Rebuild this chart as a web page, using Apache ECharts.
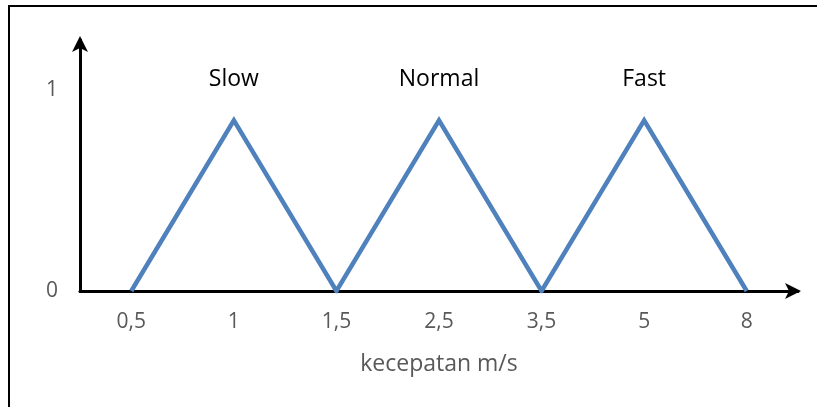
<!DOCTYPE html>
<html>
<head>
<meta charset="utf-8">
<script src="https://cdn.jsdelivr.net/npm/echarts@6/dist/echarts.min.js"></script>
<style>html,body{margin:0;padding:0;background:#fff}#c{width:817px;height:407px}</style>
</head>
<body>
<div id="c"></div>
<script>
var categories = ['0,5', '1', '1,5', '2,5', '3,5', '5', '8'];
var values = [0, 0.85, 0, 0.85, 0, 0.85, 0];
var peakNames = ['', 'Slow', '', 'Normal', '', 'Fast', ''];
var yTicks = [0, 1];
var xTitle = 'kecepatan m/s';

var FONT = '"Open Sans", "Noto Sans", sans-serif';
var chart = echarts.init(document.getElementById('c'));
chart.setOption({
  animation: false,
  backgroundColor: '#fff',
  grid: { left: 80, right: 19, top: 40, bottom: 116, containLabel: false },
  xAxis: {
    type: 'category',
    data: categories,
    boundaryGap: true,
    name: xTitle,
    nameLocation: 'middle',
    nameGap: 62,
    nameTextStyle: { color: '#595959', fontSize: 23, fontFamily: FONT },
    axisLine: { show: true, lineStyle: { color: '#000', width: 3 }, symbol: ['none', 'arrow'], symbolSize: [12, 16], symbolOffset: [0, 3] },
    axisTick: { show: false },
    axisLabel: { color: '#595959', fontSize: 21, fontFamily: FONT, margin: 21 },
    splitLine: { show: false }
  },
  yAxis: {
    type: 'value',
    min: 0,
    max: 1.25,
    interval: 0.25,
    axisLine: { show: true, lineStyle: { color: '#000', width: 3 }, symbol: ['none', 'arrow'], symbolSize: [12, 16], symbolOffset: [0, 4] },
    axisTick: { show: false },
    axisLabel: {
      color: '#595959', fontSize: 21, fontFamily: FONT, margin: 22,
      formatter: function (v) { return yTicks.indexOf(v) >= 0 ? String(v) : ''; }
    },
    splitLine: { show: false }
  },
  series: [{
    type: 'line',
    data: values,
    symbol: 'circle',
    symbolSize: 2,
    showSymbol: true,
    showAllSymbol: true,
    itemStyle: { color: 'rgba(79,129,189,0)', borderWidth: 0 },
    lineStyle: { color: '#4f81bd', width: 4.5, join: 'miter' },
    label: {
      show: true,
      position: 'top',
      distance: 28,
      color: '#000',
      fontSize: 23,
      fontFamily: FONT,
      formatter: function (p) { return peakNames[p.dataIndex]; }
    }
  }],
  graphic: [{
    type: 'rect',
    shape: { x: 9, y: 6, width: 830, height: 430 },
    style: { fill: 'none', stroke: '#000', lineWidth: 2 },
    silent: true
  }]
});
</script>
</body>
</html>
